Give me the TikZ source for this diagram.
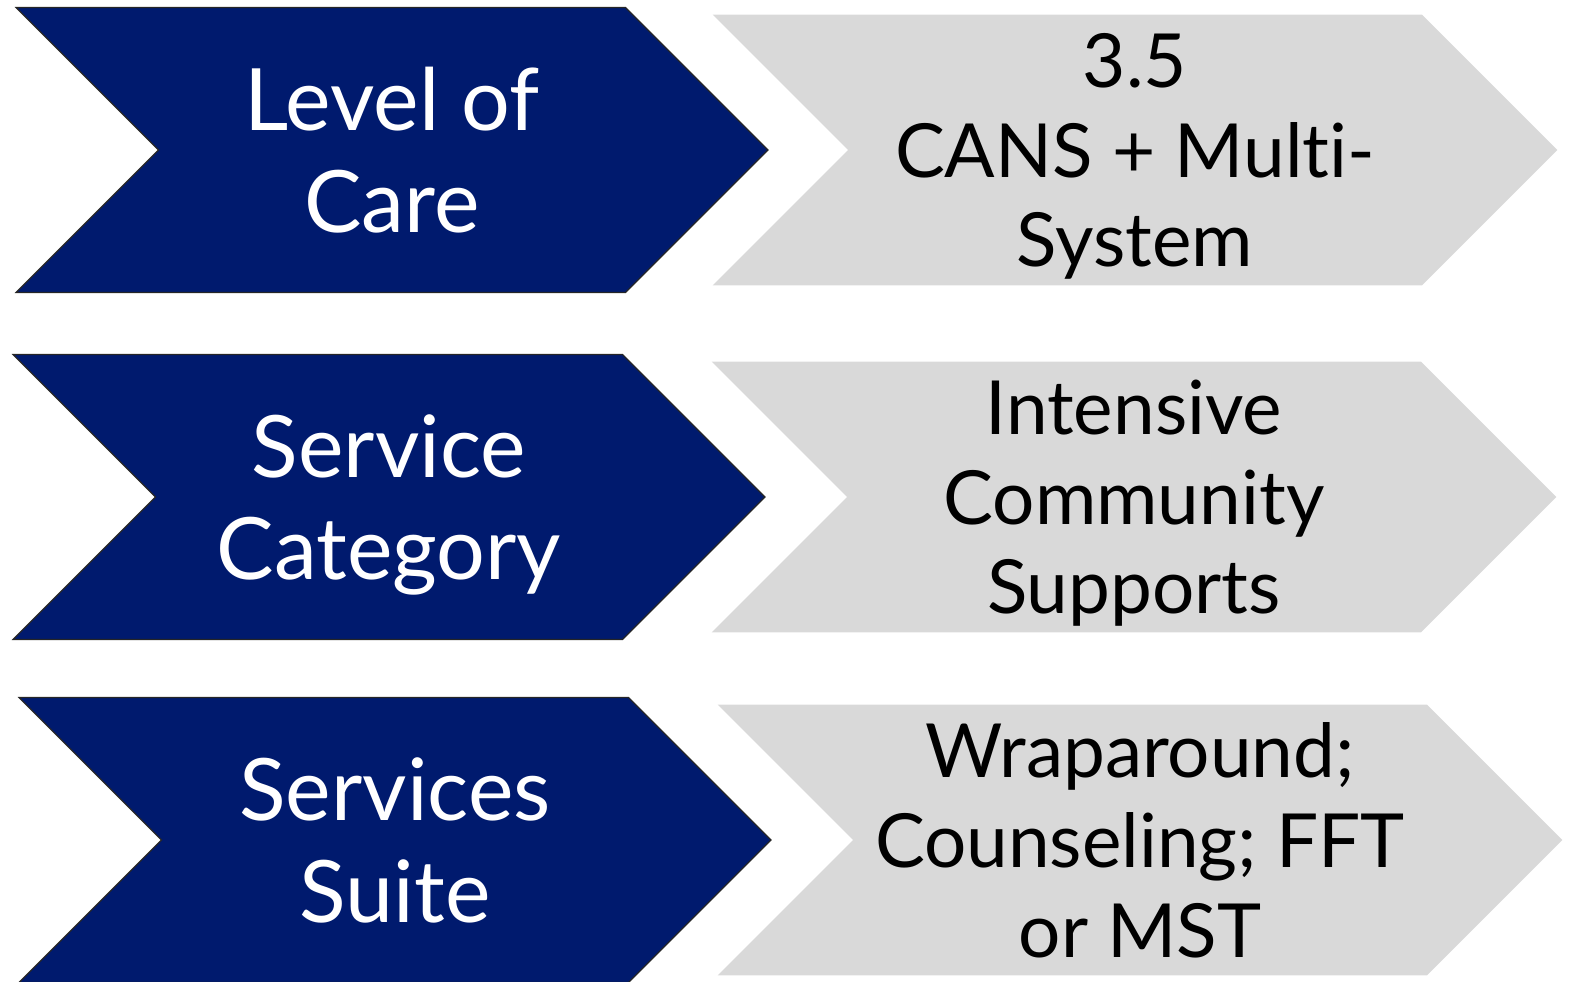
\documentclass[tikz,border=0pt]{standalone}
\usepackage{fontspec}
\setmainfont{Lato}[Ligatures=NoCommon]
\usetikzlibrary{shapes.symbols}
\definecolor{navyblue}{HTML}{001A6E}
\definecolor{lightgrey}{HTML}{D9D9D9}

\begin{document}
\begin{tikzpicture}[
    x=0.02cm, y=-0.02cm,
    chevron/.style={signal, signal from=west, signal to=east,
                    signal pointer angle=90, inner sep=0pt, align=center,
                    text depth=0pt},
    navychev/.style={chevron, draw=black!85, fill=navyblue, line width=0.7pt,
                     minimum width=15.04cm, minimum height=5.7cm, text=white,
                     font=\fontsize{49}{58}\selectfont},
    greychev/.style={chevron, fill=lightgrey, minimum width=16.9cm,
                     minimum height=5.42cm, text=black,
                     font=\fontsize{42.5}{51}\selectfont}
]
\useasboundingbox (0,0) rectangle (1573,982);

% Left column
\node[navychev] at (392,150) (level) {Level of\\Care};
\node[navychev] at (389,497) (category) {Service\\Category};
\node[navychev] at (395,840) (suite) {Services\\Suite};

% Right column
\node[greychev] at (1135,150) (levelval) {3.5\\CANS + Multi-\\System};
\node[greychev] at (1134,497) (categoryval) {Intensive\\Community\\Supports};
\node[greychev] at (1140,840) (suiteval) {Wraparound;\\Counseling; FFT\\or MST};

\end{tikzpicture}
\end{document}
